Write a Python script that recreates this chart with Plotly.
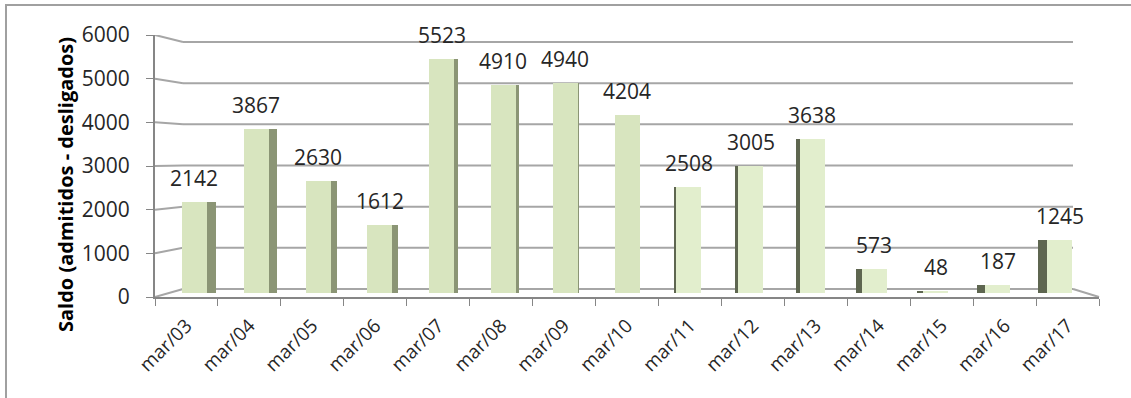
import plotly.graph_objects as go

categories = ["mar/03", "mar/04", "mar/05", "mar/06", "mar/07", "mar/08", "mar/09", "mar/10",
              "mar/11", "mar/12", "mar/13", "mar/14", "mar/15", "mar/16", "mar/17"]
saldo = [2142, 3867, 2630, 1612, 5523, 4910, 4940, 4204, 2508, 3005, 3638, 573, 48, 187, 1245]
y_ticks = [0, 1000, 2000, 3000, 4000, 5000, 6000]
y_title = "Saldo (admitidos - desligados)"

FONT = "Open Sans"
H = 398
PLOT_L, PLOT_R = 155, 1099
PX_PER_CAT = (PLOT_R - PLOT_L) / 15.0
n = len(categories)
mid = (n - 1) / 2.0

# pseudo-3D geometry (pixel space): bars at mid depth, gridlines on back wall, ticks on front
BAR0, BAR_K = 293.0, 254.5 / 6000      # bar scale: value 0 at px 293
FRONT0, FRONT_K = 297.0, 262.0 / 6000  # front axis scale
BACK0, BACK_K = 289.0, 247.0 / 6000    # back wall scale
BACK_L, BACK_R = 183, 1073


def d_of_px(px):
    return (BAR0 - px) / BAR_K


def d_front(v):
    return d_of_px(FRONT0 - v * FRONT_K)


def d_back(v):
    return d_of_px(BACK0 - v * BACK_K)


y_lo, y_hi = d_front(0), d_front(6000)
top_px = FRONT0 - 6000 * FRONT_K


def xp(px):
    return (px - PLOT_L) / (PLOT_R - PLOT_L)


def yp(px):
    return (FRONT0 - px) / (FRONT0 - top_px)


front_off, side_off, side_w, centers, side_col, front_col = [], [], [], [], [], []
for i in range(n):
    t = (mid - i) / mid  # +1 at left, -1 at right
    c = 8.0 * t / PX_PER_CAT
    half = 12.5 / PX_PER_CAT
    sw = max(9.5 * abs(t) / PX_PER_CAT, 0.001)
    centers.append(i + c)
    front_off.append(c - half)
    if t >= 0:
        side_off.append(c + half)
        side_col.append("#8b9575")
        front_col.append("#d8e5bf")
    else:
        side_off.append(c - half - sw)
        side_col.append("#5e6650")
        front_col.append("#e2eecd")
    side_w.append(sw)

fig = go.Figure()

# back-wall gridlines and their perspective connectors to the front axis
for v in y_ticks:
    fig.add_shape(type="line", xref="paper", yref="y", x0=xp(BACK_L), x1=xp(BACK_R),
                  y0=d_back(v), y1=d_back(v), line=dict(color="#a6a6a6", width=2), layer="below")
    fig.add_shape(type="line", xref="paper", yref="y", x0=0, x1=xp(BACK_L),
                  y0=d_front(v), y1=d_back(v), line=dict(color="#a6a6a6", width=2), layer="below")
# floor right edge
fig.add_shape(type="line", xref="paper", yref="y", x0=xp(BACK_R), x1=1,
              y0=d_back(0), y1=d_front(0), line=dict(color="#a6a6a6", width=2), layer="below")

fig.add_trace(go.Bar(x=categories, y=saldo, width=side_w, offset=side_off,
                     marker=dict(color=side_col, line=dict(width=0)), hoverinfo="skip"))
fig.add_trace(go.Bar(x=categories, y=saldo, width=12.5 * 2 / PX_PER_CAT, offset=front_off,
                     marker=dict(color=front_col, line=dict(width=0))))

for i, v in enumerate(saldo):
    fig.add_annotation(x=centers[i], y=v, text=str(v), showarrow=False, yshift=24,
                       xanchor="center", yanchor="middle",
                       font=dict(family=FONT, size=21, color="#262626"))

# y-axis title
fig.add_annotation(xref="paper", yref="paper", x=xp(65), y=yp(185), text="<b>" + y_title + "</b>",
                   textangle=-90, showarrow=False, xanchor="center", yanchor="middle",
                   font=dict(size=20, family=FONT, color="#000000"))

fig.add_shape(type="rect", xref="paper", yref="paper",
              x0=xp(6), x1=xp(1140), y0=yp(410), y1=yp(5),
              line=dict(color="#a0a0a0", width=2), fillcolor="rgba(0,0,0,0)", layer="below")

fig.update_layout(
    width=1131, height=H,
    margin=dict(l=PLOT_L, r=1131 - PLOT_R, t=top_px, b=H - FRONT0),
    paper_bgcolor="white", plot_bgcolor="white",
    barmode="overlay", showlegend=False, bargap=0,
    font=dict(family=FONT, color="#262626"),
    xaxis=dict(type="category", tickson="boundaries", ticks="outside", ticklen=7,
               tickcolor="#868686", showline=True, linecolor="#868686", linewidth=2,
               tickangle=-45, ticklabelstandoff=8,
               tickfont=dict(size=19, family=FONT, color="#262626"),
               showgrid=False, range=[-0.5, n - 0.5]),
    yaxis=dict(range=[y_lo, y_hi], tickvals=[d_front(v) for v in y_ticks],
               ticktext=[str(v) for v in y_ticks], ticks="outside", ticklen=7,
               tickcolor="#868686", showline=True, linecolor="#868686", linewidth=2,
               showgrid=False, zeroline=False, ticklabelstandoff=12,
               tickfont=dict(size=21, family=FONT, color="#262626")),
)

fig.write_html("out.html")
